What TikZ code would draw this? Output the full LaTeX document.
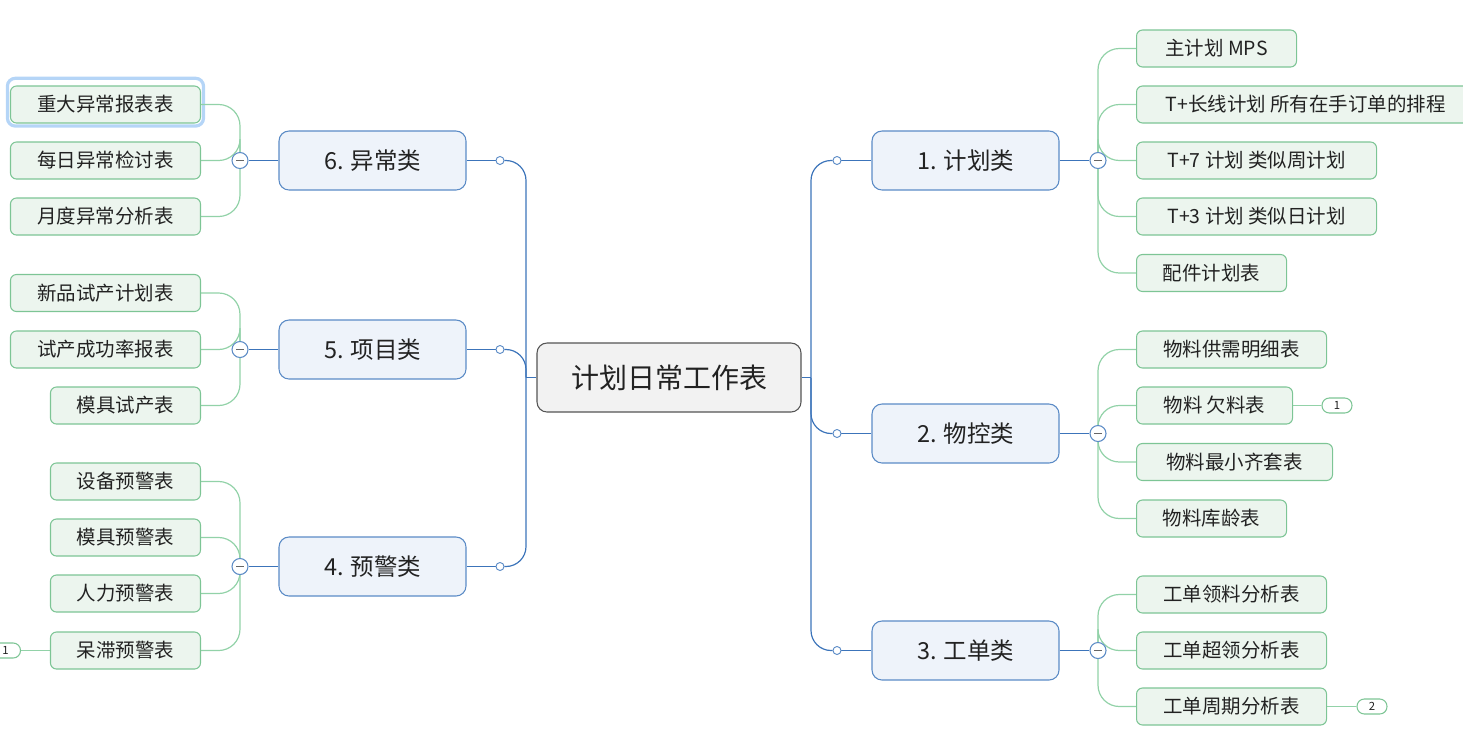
\documentclass[tikz,border=0pt]{standalone}
\usepackage{fontspec}
\newfontfamily\cjk{Noto Sans CJK SC}
\usetikzlibrary{backgrounds}
\definecolor{leaffill}{HTML}{ECF5EE}
\definecolor{leafdraw}{HTML}{7DC595}
\definecolor{gline}{HTML}{92D2A8}
\definecolor{catfill}{HTML}{EEF3FA}
\definecolor{catdraw}{HTML}{5B8BC6}
\definecolor{bline}{HTML}{3C74BA}
\definecolor{cenfill}{HTML}{F2F2F2}
\definecolor{cendraw}{HTML}{555555}
\definecolor{txt}{HTML}{222222}
\definecolor{selblue}{HTML}{B5D5F7}
\begin{document}
\begin{tikzpicture}[x=0.75pt,y=-0.75pt,
  leaf/.style={draw=leafdraw, fill=leaffill, rounded corners=4.5pt, line width=0.8pt,
    minimum height=27.75pt, minimum width=#1*0.75pt, inner sep=0pt, text=txt,
    font=\cjk\fontsize{14.6}{17}\selectfont},
  rleaf/.style={leaf=#1, anchor=west},
  lleaf/.style={leaf=#1, anchor=east},
  cat/.style={draw=catdraw, fill=catfill, rounded corners=7.5pt, line width=0.8pt,
    minimum height=44.25pt, minimum width=140.25pt, inner sep=0pt, text=txt,
    font=\cjk\fontsize{17.6}{20}\selectfont},
  center/.style={draw=cendraw, fill=cenfill, rounded corners=7.5pt, line width=0.8pt,
    minimum height=51.75pt, minimum width=198pt, inner sep=0pt, text=txt,
    font=\cjk\fontsize{21}{24}\selectfont},
  joint/.style={circle, draw=catdraw, fill=white, line width=0.7pt, minimum size=6pt, inner sep=0pt},
  fold/.style={circle, draw=catdraw, fill=white, line width=0.8pt, minimum size=12pt, inner sep=0pt,
    path picture={\draw[gray!80!black, line width=1.3pt] ([xshift=-3pt]path picture bounding box.center) -- ([xshift=3pt]path picture bounding box.center);}},
  badge/.style={draw=leafdraw, fill=white, rounded corners=5.5pt, line width=0.8pt,
    minimum height=11.25pt, minimum width=22.5pt, inner sep=0pt, text=txt,
    font=\cjk\fontsize{8.5}{9}\selectfont},
  bl/.style={draw=bline, line width=0.9pt},
  gl/.style={draw=gline, line width=0.9pt},
]
\useasboundingbox (0,0) rectangle (1463,747);

% center
\node[center] (c) at (669,377.5) {计划日常工作表};
\coordinate (rs) at (811,377.5);
\coordinate (ls) at (526,377.5);

% categories
\node[cat] (cat1) at (965.5,160.5) {1. 计划类};
\node[cat] (cat2) at (965.5,433.5) {2. 物控类};
\node[cat] (cat3) at (965.5,650.5) {3. 工单类};
\node[cat] (cat6) at (372.5,160.5) {6. 异常类};
\node[cat] (cat5) at (372.5,349.5) {5. 项目类};
\node[cat] (cat4) at (372.5,566.5) {4. 预警类};

% joints
\node[joint] (s1) at (837,160.5) {};
\node[joint] (s2) at (837,433.5) {};
\node[joint] (s3) at (837,650.5) {};
\node[joint] (s6) at (500,160.5) {};
\node[joint] (s5) at (500,349.5) {};
\node[joint] (s4) at (500,566.5) {};

% fold circles
\node[fold] (k1) at (1098,160.5) {};
\node[fold] (k2) at (1098,433.5) {};
\node[fold] (k3) at (1098,650.5) {};
\node[fold] (k6) at (240,160.5) {};
\node[fold] (k5) at (240,349.5) {};
\node[fold] (k4) at (240,566.5) {};

% right leaves
\node[rleaf=160] (l11) at (1136,48.5) {主计划 MPS};
\node[rleaf=338] (l12) at (1136,104.5) {T+长线计划 所有在手订单的排程};
\node[rleaf=240] (l13) at (1136,160.5) {T+7 计划 类似周计划};
\node[rleaf=240] (l14) at (1136,216.5) {T+3 计划 类似日计划};
\node[rleaf=150] (l15) at (1136,273) {配件计划表};

\node[rleaf=190] (l21) at (1136,349.5) {物料供需明细表};
\node[rleaf=156] (l22) at (1136,405.5) {物料 欠料表};
\node[rleaf=196] (l23) at (1136,462) {物料最小齐套表};
\node[rleaf=150] (l24) at (1136,518.5) {物料库龄表};
\node[badge] (b22) at (1337,405.5) {1};

\node[rleaf=190] (l31) at (1136,594.5) {工单领料分析表};
\node[rleaf=190] (l32) at (1136,650.5) {工单超领分析表};
\node[rleaf=190] (l33) at (1136,706.5) {工单周期分析表};
\node[badge] (b33) at (1372,706.5) {2};

% left leaves
\node[lleaf=190] (l61) at (201,104.5) {重大异常报表表};
\node[lleaf=190] (l62) at (201,160.5) {每日异常检讨表};
\node[lleaf=190] (l63) at (201,216.5) {月度异常分析表};

\node[lleaf=190] (l51) at (201,293) {新品试产计划表};
\node[lleaf=190] (l52) at (201,349.5) {试产成功率报表};
\node[lleaf=150] (l53) at (201,405.5) {模具试产表};

\node[lleaf=150] (l41) at (201,481.5) {设备预警表};
\node[lleaf=150] (l42) at (201,537.5) {模具预警表};
\node[lleaf=150] (l43) at (201,593.5) {人力预警表};
\node[lleaf=150] (l44) at (201,650.5) {呆滞预警表};
\node[badge] (b44) at (5.5,650.5) {1};

\begin{scope}[on background layer]
  % selection highlight
  \draw[selblue, line width=2.4pt, rounded corners=6pt]
    ([shift={(-1.9pt,-1.9pt)}]l61.south west) rectangle ([shift={(1.9pt,5.4pt)}]l61.north east);
  % spine
  \draw[bl] (c.east) -- (rs);
  \draw[bl] (c.west) -- (ls);
  \draw[bl, rounded corners=15pt] (rs) |- (s1.west);
  \draw[bl, rounded corners=15pt] (rs) |- (s2.west);
  \draw[bl, rounded corners=15pt] (rs) |- (s3.west);
  \draw[bl, rounded corners=15pt] (ls) |- (s6.east);
  \draw[bl, rounded corners=15pt] (ls) |- (s5.east);
  \draw[bl, rounded corners=15pt] (ls) |- (s4.east);
  \draw[bl] (s1) -- (cat1);
  \draw[bl] (s2) -- (cat2);
  \draw[bl] (s3) -- (cat3);
  \draw[bl] (s6) -- (cat6);
  \draw[bl] (s5) -- (cat5);
  \draw[bl] (s4) -- (cat4);
  % category to fold
  \draw[bl] (cat1.east) -- (k1);
  \draw[bl] (cat2.east) -- (k2);
  \draw[bl] (cat3.east) -- (k3);
  \draw[bl] (cat6.west) -- (k6);
  \draw[bl] (cat5.west) -- (k5);
  \draw[bl] (cat4.west) -- (k4);
  % leaf branches
  \foreach \k/\l in {k1/l11,k1/l12,k1/l13,k1/l14,k1/l15,k2/l21,k2/l22,k2/l23,k2/l24,k3/l31,k3/l32,k3/l33}
    \draw[gl, rounded corners=16pt] (\k.center) |- (\l.west);
  \foreach \k/\l in {k6/l61,k6/l62,k6/l63,k5/l51,k5/l52,k5/l53,k4/l41,k4/l42,k4/l43,k4/l44}
    \draw[gl, rounded corners=16pt] (\k.center) |- (\l.east);
  % badges
  \draw[gl] (l22.east) -- (b22.west);
  \draw[gl] (l33.east) -- (b33.west);
  \draw[gl] (l44.west) -- (b44.east);
\end{scope}
\end{tikzpicture}
\end{document}
